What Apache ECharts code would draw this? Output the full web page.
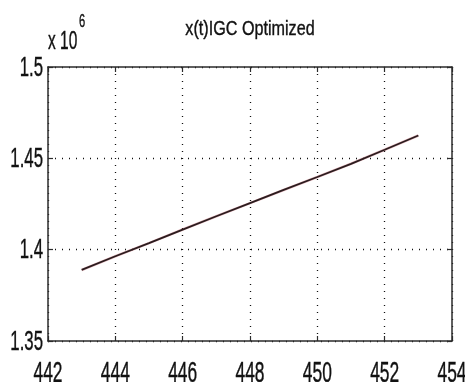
<!DOCTYPE html>
<html>
<head>
<meta charset="utf-8">
<script src="https://cdn.jsdelivr.net/npm/echarts@6/dist/echarts.min.js"></script>
<style>
  html, body { margin: 0; padding: 0; background: #fff; }
  #chart { width: 465px; height: 382px; }
</style>
</head>
<body>
<div id="chart"></div>
<script>
// Sample index t and the optimized state x(t), in units of 10^6
const tValues = [443, 444, 445, 446, 447, 448, 449, 450, 451, 452, 453];
const xValues = [1.3889, 1.3964, 1.4036, 1.4110, 1.4183, 1.4255, 1.4327, 1.4398, 1.4470, 1.4547, 1.4625];
const xTicks = [442, 444, 446, 448, 450, 452, 454];
const yTicks = [1.35, 1.4, 1.45, 1.5];
const titleText = 'x(t)IGC Optimized';
const exponentBase = 'x 10';
const exponentPower = '6';

const FONT = '"Liberation Sans", Arial, sans-serif';
const INK = '#111';
const frame = '#2b2b2b';
// condensed look for the text: glyphs are squeezed horizontally
const SQUEEZE = 0.6;

const points = tValues.map((t, i) => [t, xValues[i]]);

const chart = echarts.init(document.getElementById('chart'), null, { renderer: 'canvas' });

const boxAxis = (extra) => Object.assign({
  type: 'value',
  axisLine: { show: true, onZero: false, lineStyle: { color: frame, width: 1.5 } },
  axisTick: { show: true, inside: true, length: 5, lineStyle: { color: frame, width: 1.2 } },
  axisLabel: { show: false },
  splitLine: { show: false }
}, extra);

const grid = { type: [1, 6], width: 1.3, color: INK };

chart.setOption({
  backgroundColor: '#ffffff',
  animation: false,
  grid: { left: 48, right: 13, top: 67, bottom: 41, containLabel: false },
  xAxis: [
    boxAxis({ min: xTicks[0], max: xTicks[xTicks.length - 1], interval: 2,
      splitLine: { show: true, lineStyle: grid } }),
    boxAxis({ position: 'top', min: xTicks[0], max: xTicks[xTicks.length - 1], interval: 2 })
  ],
  yAxis: [
    boxAxis({ min: yTicks[0], max: yTicks[yTicks.length - 1], interval: 0.05,
      splitLine: { show: true, lineStyle: grid } }),
    boxAxis({ position: 'right', min: yTicks[0], max: yTicks[yTicks.length - 1], interval: 0.05 })
  ],
  series: [{
    type: 'line',
    data: points,
    showSymbol: false,
    lineStyle: { color: '#c04050', width: 2.6, opacity: 0.35 },
    z: 2
  }, {
    type: 'line',
    data: points,
    showSymbol: false,
    lineStyle: { color: '#2a1c1e', width: 1.8 },
    z: 3
  }]
});

// Tick labels, title and exponent note, placed through the axis scales
const squeezedText = (text, x, y, size, align, vAlign, sx) => ({
  type: 'text',
  x: x, y: y,
  scaleX: sx === undefined ? SQUEEZE : sx,
  silent: true,
  style: {
    text: text, x: 0, y: 0,
    font: size + 'px ' + FONT,
    fill: INK,
    stroke: INK,
    lineWidth: 0.4,
    align: align,
    verticalAlign: vAlign
  }
});

const labels = [];
xTicks.forEach(v => {
  const px = chart.convertToPixel({ xAxisIndex: 0 }, v);
  labels.push(squeezedText(String(v), px, 374, 29, 'center', 'middle'));
});
yTicks.forEach(v => {
  const py = chart.convertToPixel({ yAxisIndex: 0 }, v);
  labels.push(squeezedText(String(v), 43, py + 1, 28, 'right', 'middle'));
});
const plotMid = (chart.convertToPixel({ xAxisIndex: 0 }, xTicks[0]) +
                 chart.convertToPixel({ xAxisIndex: 0 }, xTicks[xTicks.length - 1])) / 2;
labels.push(squeezedText(titleText, plotMid, 29, 21, 'center', 'middle', 0.77));
labels.push(squeezedText(exponentBase, 48, 42, 25, 'left', 'middle', 0.62));
labels.push(squeezedText(exponentPower, 79, 22, 18, 'left', 'middle', 0.62));

chart.setOption({ graphic: labels });
</script>
</body>
</html>
